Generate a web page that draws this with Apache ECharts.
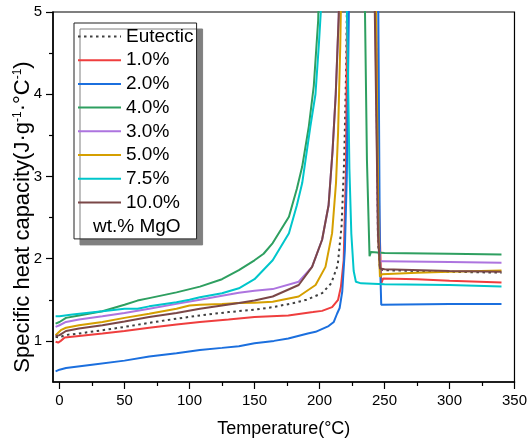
<!DOCTYPE html>
<html>
<head>
<meta charset="utf-8">
<title>Specific heat capacity</title>
<script src="https://cdn.jsdelivr.net/npm/echarts@6/dist/echarts.min.js"></script>
<style>
    html, body { margin: 0; padding: 0; background: #fff; }
    #main { width: 530px; height: 443px; }
</style>
</head>
<body>
<div id="main"></div>
<script>
// 数据 [温度(°C), 比热容]
var eutectic = [[-3, 1.05], [0, 1.04], [4, 1.07], [15, 1.09], [33, 1.13], [50, 1.17], [69, 1.22], [90, 1.27], [108, 1.31], [130, 1.35], [150, 1.38], [164, 1.41], [180, 1.46], [190, 1.50], [202, 1.58], [209, 1.70], [214, 1.92], [217, 2.4], [219, 3.2], [220.5, 4.3], [221.5, 5.6], [243, 5.6], [245, 2.2], [246.5, 1.87], [250, 1.86], [275, 1.85], [300, 1.84], [340, 1.83]];
var mgo10 = [[-3, 0.99], [-1, 0.98], [1, 1.0], [4, 1.04], [15, 1.06], [33, 1.09], [50, 1.12], [69, 1.16], [90, 1.20], [108, 1.23], [130, 1.26], [150, 1.29], [176, 1.31], [195, 1.35], [202, 1.365], [209.7, 1.41], [214.3, 1.50], [216.5, 1.66], [218.6, 1.98], [220.4, 3.1], [221.5, 5.6], [243, 5.6], [246, 2.5], [247.5, 1.70], [249, 1.76], [275, 1.75], [300, 1.73], [340, 1.71]];
var mgo20 = [[-3, 0.63], [0, 0.65], [5, 0.67], [25, 0.71], [50, 0.76], [69, 0.81], [90, 0.85], [108, 0.89], [125, 0.915], [138, 0.935], [150, 0.97], [165, 1.0], [176, 1.03], [191, 1.09], [197, 1.11], [207, 1.18], [211, 1.23], [213.5, 1.33], [215.5, 1.40], [217.5, 1.6], [219.5, 2.1], [221, 3.0], [222, 4.2], [223, 5.6], [245, 5.6], [246.5, 2.0], [247.5, 1.44], [249, 1.45], [300, 1.45], [340, 1.45]];
var mgo40 = [[-3, 1.21], [0, 1.23], [5, 1.28], [15, 1.31], [33, 1.36], [50, 1.44], [60, 1.49], [69, 1.52], [90, 1.59], [108, 1.66], [125, 1.75], [138, 1.86], [150, 1.98], [157, 2.06], [164, 2.19], [176.5, 2.51], [182.6, 2.85], [186.7, 3.12], [191.8, 3.61], [195.6, 4.1], [199, 4.9], [200, 5.6], [234.5, 5.6], [236.5, 3.2], [238.5, 2.03], [239.5, 2.08], [240.5, 2.06], [250, 2.07], [300, 2.06], [340, 2.05]];
var mgo30 = [[-3, 1.17], [0, 1.19], [5, 1.23], [15, 1.26], [33, 1.30], [50, 1.34], [69, 1.39], [90, 1.45], [108, 1.50], [125, 1.55], [138, 1.585], [150, 1.61], [164, 1.63], [184, 1.72], [194.3, 1.90], [202, 2.23], [207, 2.65], [210, 3.3], [212.5, 4.0], [214.8, 4.95], [215.5, 5.6], [242.5, 5.6], [245, 2.3], [246.5, 1.97], [250, 1.97], [300, 1.96], [340, 1.95]];
var mgo50 = [[-3, 1.07], [-1, 1.10], [1, 1.13], [5, 1.16], [15, 1.19], [33, 1.23], [50, 1.28], [69, 1.33], [90, 1.39], [100, 1.43], [108, 1.44], [125, 1.45], [138, 1.46], [150, 1.465], [164, 1.475], [184, 1.54], [197, 1.68], [204.6, 1.90], [209.7, 2.31], [212.7, 2.92], [214.3, 3.53], [216, 4.6], [217, 5.6], [243, 5.6], [245.5, 2.2], [246.5, 1.78], [248, 1.81], [275, 1.83], [300, 1.84], [340, 1.855]];
var mgo75 = [[-3, 1.30], [0, 1.30], [10, 1.32], [33, 1.36], [50, 1.39], [60, 1.39], [69, 1.42], [90, 1.47], [100, 1.50], [108, 1.53], [125, 1.58], [138, 1.64], [150, 1.75], [164, 1.98], [176.5, 2.31], [182.6, 2.65], [186.7, 2.92], [193, 3.61], [196.9, 4.0], [199.5, 4.6], [201, 5.0], [202, 5.6], [220.5, 5.6], [222, 4.2], [223, 3.1], [224.5, 2.3], [226.3, 1.85], [228, 1.72], [232, 1.70], [250, 1.69], [300, 1.68], [340, 1.66]];
var mgo100 = [[-3, 1.06], [0, 1.07], [5, 1.12], [15, 1.15], [33, 1.19], [50, 1.235], [69, 1.29], [90, 1.34], [108, 1.39], [125, 1.43], [138, 1.46], [150, 1.49], [164, 1.54], [184, 1.68], [194.3, 1.90], [202, 2.23], [207, 2.65], [210, 3.3], [212.5, 4.0], [214.8, 4.95], [215.5, 5.6], [242, 5.6], [245, 2.3], [246.5, 1.88], [250, 1.87], [300, 1.85], [340, 1.84]];

// 刻度
var xLabels = [0, 50, 100, 150, 200, 250, 300, 350];
var xMinor = [25, 75, 125, 175, 225, 275, 325];
var yLabels = [1, 2, 3, 4, 5];
var yMinor = [1.5, 2.5, 3.5, 4.5];

var names = ['Eutectic', '1.0%', '2.0%', '4.0%', '3.0%', '5.0%', '7.5%', '10.0%'];
var colors = ['#404040', '#ef3e3e', '#1b6fde', '#2e9f60', '#ad74df', '#d59f00', '#00c6cb', '#7a4747'];

(function () {
    var font = 'Liberation Sans, Arial, sans-serif';
    var datas = [eutectic, mgo10, mgo20, mgo40, mgo30, mgo50, mgo75, mgo100];

    var series = [];
    for (var i = 0; i < datas.length; i++) {
        series.push({
            name: names[i],
            type: 'line',
            data: datas[i],
            symbol: 'none',
            clip: true, // 峰顶超出5的部分裁掉
            lineStyle: {
                width: 2,
                color: colors[i],
                type: i === 0 ? [2.5, 3.5] : 'solid' // 共晶用点线
            },
            itemStyle: { color: colors[i] }
        });
    }

    var option = {
        animation: false,
        grid: {
            left: 53,
            right: 13,
            top: 12,
            bottom: 61,
            show: true,
            borderColor: '#000',
            borderWidth: 1.2
        },
        legend: {
            orient: 'vertical',
            left: 74,
            top: 23,
            padding: [4, 3, 27, 3],
            itemWidth: 43,
            itemHeight: 10,
            itemGap: 4.7,
            backgroundColor: '#fff',
            borderColor: '#222',
            borderWidth: 1,
            shadowColor: '#808080',
            shadowBlur: 0,
            shadowOffsetX: 6,
            shadowOffsetY: 6,
            itemStyle: { opacity: 0 }, // 图例里不要圆点
            textStyle: { fontFamily: font, fontSize: 19, lineHeight: 19, color: '#000' },
            data: names
        },
        xAxis: [{
            type: 'value',
            min: -5,
            max: 350,
            name: 'Temperature(°C)',
            nameLocation: 'middle',
            nameGap: 38,
            nameTextStyle: { fontFamily: font, fontSize: 18, color: '#000' },
            axisLine: { show: true, onZero: false, lineStyle: { color: '#000', width: 1.5 } },
            axisTick: { show: true, length: 7, customValues: xLabels, lineStyle: { color: '#000', width: 1.2 } },
            axisLabel: { customValues: xLabels, margin: 11, fontFamily: font, fontSize: 15, color: '#000' },
            splitLine: { show: false }
        }, {
            // 次刻度
            type: 'value',
            min: -5,
            max: 350,
            position: 'bottom',
            axisLine: { show: false, onZero: false },
            axisTick: { show: true, length: 4, customValues: xMinor, lineStyle: { color: '#000', width: 1.2 } },
            axisLabel: { show: false },
            splitLine: { show: false }
        }],
        yAxis: [{
            type: 'value',
            min: 0.5,
            max: 5,
            axisLine: { show: true, onZero: false, lineStyle: { color: '#000', width: 1.5 } },
            axisTick: { show: true, length: 7, customValues: yLabels, lineStyle: { color: '#000', width: 1.2 } },
            axisLabel: { customValues: yLabels, margin: 11, fontFamily: font, fontSize: 15, color: '#000' },
            splitLine: { show: false }
        }, {
            type: 'value',
            min: 0.5,
            max: 5,
            position: 'left',
            axisLine: { show: false, onZero: false },
            axisTick: { show: true, length: 4, customValues: yMinor, lineStyle: { color: '#000', width: 1.2 } },
            axisLabel: { show: false },
            splitLine: { show: false }
        }],
        graphic: [{
            // y轴标题，带上标
            type: 'text',
            x: 23,
            y: 217,
            rotation: Math.PI / 2,
            z: 100,
            style: {
                text: '{a|Specific heat capacity(J·g}{s|-1}{a|·°C}{s|-1}{a|)}',
                rich: {
                    a: { fontFamily: font, fontSize: 22, color: '#000' },
                    s: { fontFamily: font, fontSize: 12, color: '#000', verticalAlign: 'top' }
                },
                align: 'center',
                verticalAlign: 'middle'
            }
        }, {
            // 图例最后一行
            type: 'text',
            left: 93,
            top: 217,
            z: 100,
            style: { text: 'wt.% MgO', fontFamily: font, fontSize: 19, fill: '#000' }
        }],
        series: series
    };

    var myechart = echarts.init(document.getElementById('main'));
    myechart.setOption(option);
})();
</script>
</body>
</html>
